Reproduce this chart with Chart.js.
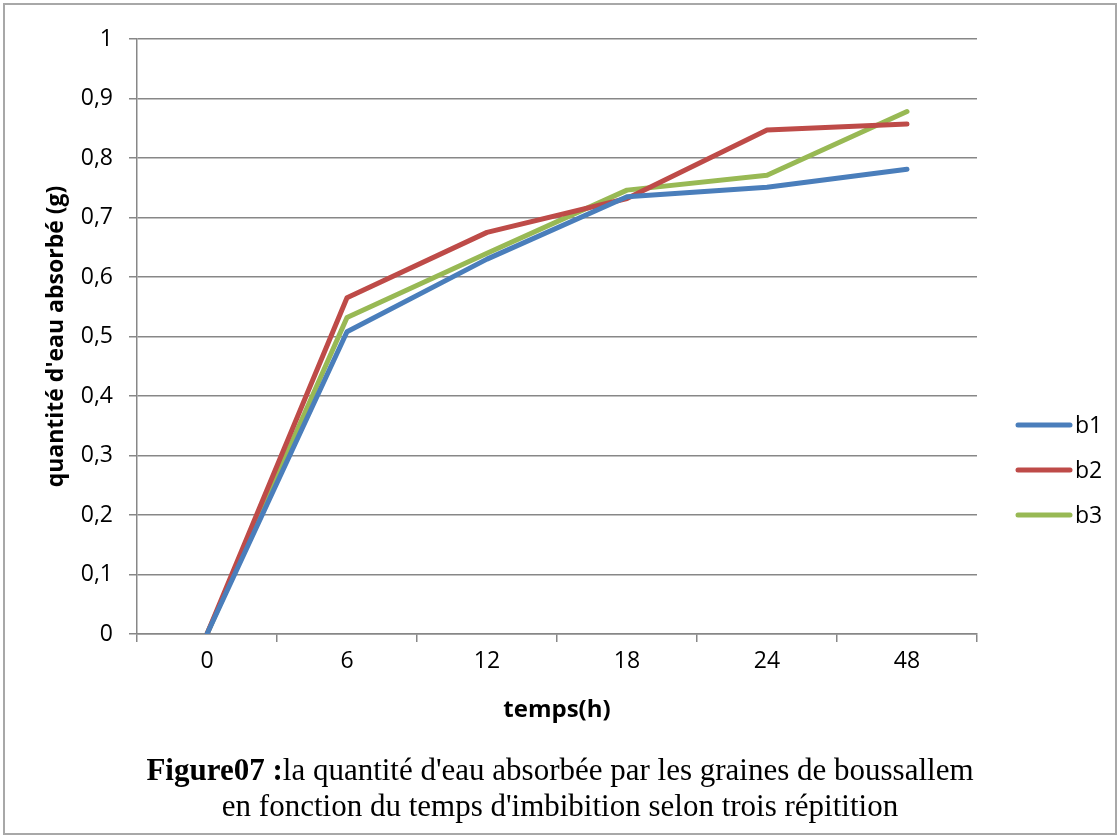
<!DOCTYPE html>
<html>
<head>
<meta charset="utf-8">
<script src="https://cdn.jsdelivr.net/npm/chart.js@4"></script>
<style>
  body { margin: 0; background: #fff; }
  #wrap { position: relative; width: 1120px; height: 838px; }
  #frame { position: absolute; left: 3px; top: 3px; right: 3px; bottom: 3px; border: 2px solid #a8a8a8; pointer-events: none; }
  #caption { position: absolute; left: 0; width: 1120px; top: 752px; text-align: center;
             font-family: "Liberation Serif", "Times New Roman", serif; font-size: 31px; line-height: 36px; color: #000; }
</style>
</head>
<body>
<div id="wrap">
  <canvas id="chart" width="1120" height="838"></canvas>
  <div id="frame"></div>
  <div id="caption"><b>Figure07 :</b>la quantité d'eau absorbée par les graines de boussallem<br>en fonction du temps d'imbibition selon trois répitition</div>
</div>
<script>
// Data
const hours = ['0', '6', '12', '18', '24', '48'];
const b1 = [0, 0.508, 0.630, 0.735, 0.751, 0.781];
const b2 = [0, 0.565, 0.675, 0.732, 0.847, 0.857];
const b3 = [0, 0.532, 0.640, 0.746, 0.771, 0.878];
const yTickLabels = ['0', '0,1', '0,2', '0,3', '0,4', '0,5', '0,6', '0,7', '0,8', '0,9', '1'];

const seriesNames = ['b1', 'b2', 'b3'];
const seriesColors = ['#4a7ebb', '#be4b48', '#98b954'];

const tickFont = { family: 'Open Sans', size: 23 };
const gridColor = '#878787';

// draw the legend on the right by hand
const sideLegend = {
  id: 'sideLegend',
  afterDraw(chart) {
    const ctx = chart.ctx;
    ctx.save();
    chart.data.datasets.forEach((ds, i) => {
      const y = 425 + i * 45;
      ctx.strokeStyle = ds.borderColor;
      ctx.lineWidth = 5;
      ctx.lineCap = 'round';
      ctx.beginPath();
      ctx.moveTo(1018, y);
      ctx.lineTo(1070, y);
      ctx.stroke();
      ctx.fillStyle = '#000';
      ctx.font = '23px "Open Sans"';
      ctx.textBaseline = 'middle';
      ctx.fillText(ds.label, 1075, y + 1);
    });
    ctx.restore();
  }
};

const config = {
  type: 'line',
  data: {
    labels: hours,
    datasets: [b1, b2, b3].map((d, i) => ({
      label: seriesNames[i],
      data: d,
      borderColor: seriesColors[i],
      backgroundColor: seriesColors[i],
      borderWidth: 5,
      pointRadius: 0,
      tension: 0,
      borderCapStyle: 'round',
      borderJoinStyle: 'round'
    }))
  },
  options: {
    responsive: false,
    animation: false,
    layout: { padding: { left: 0, top: 39, right: 143, bottom: 104 } },
    plugins: {
      legend: { display: false },
      tooltip: { enabled: false }
    },
    scales: {
      x: {
        offset: true,
        grid: { offset: true, drawOnChartArea: false, color: gridColor, tickLength: 8, lineWidth: 1.5 },
        border: { color: gridColor, width: 1.5 },
        ticks: { font: tickFont, color: '#000', padding: 6 },
        title: { display: true, text: 'temps(h)', font: { family: 'Open Sans', size: 24, weight: 'bold' }, color: '#000', padding: { top: 0, bottom: 9 } },
        afterFit(scale) { scale.height = 100; }
      },
      y: {
        min: 0,
        max: 1,
        ticks: {
          stepSize: 0.1,
          font: tickFont,
          color: '#000',
          padding: 16,
          callback: (v, i) => yTickLabels[i]
        },
        grid: { color: gridColor, lineWidth: 1.5, tickLength: 8 },
        border: { color: gridColor, width: 1.5 },
        title: { display: true, text: "quantité d'eau absorbé (g)", font: { family: 'Open Sans', size: 23, weight: 'bold' }, color: '#000', padding: { top: 43, bottom: 0 } },
        afterFit(scale) { scale.width = 137; }
      }
    }
  },
  plugins: [sideLegend]
};

const ctx = document.getElementById('chart').getContext('2d');
const chart = new Chart(ctx, config);
</script>
</body>
</html>
